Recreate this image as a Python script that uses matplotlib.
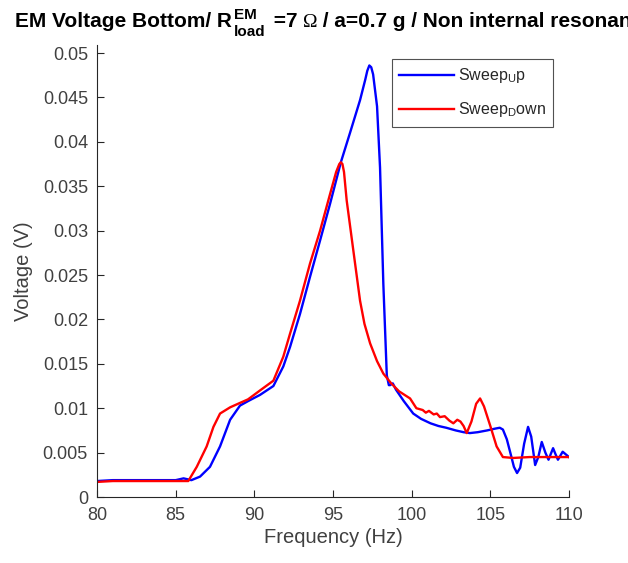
import matplotlib
matplotlib.use("Agg")
import matplotlib.pyplot as plt

plt.rcParams['font.family'] = ['Liberation Sans', 'DejaVu Sans']
plt.rcParams['mathtext.fontset'] = 'custom'
plt.rcParams['mathtext.rm'] = 'Liberation Sans'
plt.rcParams['mathtext.it'] = 'Liberation Sans'

# Sweep Up (blue)
up_freq = [80.0, 81.0, 82.0, 83.0, 84.0, 85.0, 85.5, 86.0, 86.55, 87.18, 87.82, 88.46,
           89.09, 89.6, 90.36, 91.21, 91.84, 92.27, 92.9, 93.54, 94.18, 94.81, 95.5,
           96.08, 96.72, 97.05, 97.18, 97.31, 97.43, 97.55, 97.8, 97.99, 98.2, 98.42,
           98.55, 98.63, 98.8, 99.0, 99.5, 100.1, 100.6, 101.2, 101.7, 102.2, 102.8,
           103.3, 103.7, 104.2, 104.8, 105.3, 105.6, 105.8, 106.05, 106.3, 106.5, 106.7,
           106.9, 107.15, 107.4, 107.6, 107.85, 108.05, 108.27, 108.5, 108.7, 108.99,
           109.15, 109.3, 109.6, 109.8, 110.0]
up_volt = [0.0018, 0.0019, 0.0019, 0.0019, 0.0019, 0.0019, 0.0021, 0.0019, 0.0023, 0.0034,
           0.0057, 0.0087, 0.0103, 0.0108, 0.0115, 0.0125, 0.0147, 0.0169, 0.0206, 0.0248,
           0.0289, 0.0330, 0.0377, 0.0410, 0.0447, 0.0470, 0.0480, 0.0486, 0.0484, 0.0476,
           0.0440, 0.0371, 0.0240, 0.0137, 0.0126, 0.0126, 0.0128, 0.0121, 0.0108, 0.0094,
           0.0088, 0.0083, 0.0080, 0.0078, 0.0075, 0.0073, 0.0072, 0.0073, 0.0075, 0.0077,
           0.0078, 0.0076, 0.0065, 0.0048, 0.0034, 0.0027, 0.0033, 0.0060, 0.0079, 0.0068,
           0.0036, 0.0045, 0.0062, 0.0050, 0.0042, 0.0055, 0.0048, 0.0042, 0.0051, 0.0048,
           0.0045]

# Sweep Down (red)
down_freq = [80.0, 81.0, 82.0, 83.0, 84.0, 85.0, 85.8, 86.34, 86.97, 87.4, 87.82, 88.46,
             89.09, 89.6, 90.36, 91.21, 91.84, 92.27, 92.9, 93.54, 94.18, 94.81, 95.2,
             95.4, 95.5, 95.6, 95.7, 95.87, 96.29, 96.72, 97.0, 97.36, 97.8, 98.2, 98.7,
             99.2, 99.9, 100.3, 100.7, 100.9, 101.1, 101.4, 101.6, 101.8, 102.1, 102.4,
             102.65, 102.9, 103.1, 103.3, 103.5, 103.8, 104.1, 104.35, 104.6, 105.0,
             105.4, 105.8, 106.45, 107.5, 108.5, 109.5, 110.0]
down_volt = [0.0017, 0.0018, 0.0018, 0.0018, 0.0018, 0.0018, 0.0018, 0.0034, 0.0057,
             0.0079, 0.0094, 0.0101, 0.0106, 0.0110, 0.0120, 0.0131, 0.0158, 0.0184,
             0.0221, 0.0263, 0.0300, 0.0341, 0.0366, 0.0375, 0.0377, 0.0375, 0.0366,
             0.0334, 0.0278, 0.0221, 0.0195, 0.0173, 0.0153, 0.0139, 0.0128, 0.0119,
             0.0111, 0.0100, 0.0098, 0.0095, 0.0097, 0.0093, 0.0094, 0.0090, 0.0091,
             0.0086, 0.0083, 0.0087, 0.0085, 0.0080, 0.0072, 0.0085, 0.0105, 0.0111,
             0.0102, 0.0080, 0.0057, 0.0045, 0.0044, 0.0045, 0.0045, 0.0045, 0.0045]

x_ticks = [80, 85, 90, 95, 100, 105, 110]
y_ticks = [0, 0.005, 0.01, 0.015, 0.02, 0.025, 0.03, 0.035, 0.04, 0.045, 0.05]
y_tick_labels = ['0', '0.005', '0.01', '0.015', '0.02', '0.025', '0.03', '0.035',
                 '0.04', '0.045', '0.05']

axc = '#262626'
txc = '#404040'
W, H = 628, 563
fig = plt.figure(figsize=(W / 100, H / 100), dpi=100)
ax = fig.add_axes([0.1545, 0.1172, 0.7515, 0.8028])

ax.plot(up_freq, up_volt, color='#0000ff', lw=1.7, label='Sweep$_U$p')
ax.plot(down_freq, down_volt, color='#ff0000', lw=1.7, label='Sweep$_D$own')

ax.set_xlim(80, 110)
ax.set_ylim(0, 0.0509)
ax.set_xticks(x_ticks)
ax.set_xticklabels([str(t) for t in x_ticks])
ax.set_yticks(y_ticks)
ax.set_yticklabels(y_tick_labels)
for s in ['top', 'right']:
    ax.spines[s].set_visible(False)
for s in ['left', 'bottom']:
    ax.spines[s].set_color(axc)
    ax.spines[s].set_linewidth(0.8)
ax.tick_params(direction='in', length=5, width=0.8, colors=axc, labelsize=13,
               labelcolor=txc)
ax.tick_params(axis='y', pad=6.5)
ax.tick_params(axis='x', pad=7)
ax.set_xlabel('Frequency (Hz)', fontsize=14.5, color=txc, labelpad=3)
ax.set_ylabel('Voltage (V)', fontsize=14.5, color=txc, labelpad=7)

leg = ax.legend(loc='upper right', bbox_to_anchor=(0.966, 0.969), fontsize=11.5,
                frameon=True, fancybox=False, handlelength=3.4, borderpad=0.45,
                labelspacing=0.95, handletextpad=0.25, borderaxespad=0)
leg.get_frame().set_edgecolor(axc)
leg.get_frame().set_linewidth(0.8)
for t in leg.get_texts():
    t.set_color('#262626')

# Title assembled from pieces (MATLAB-style stacked sub/superscript);
# the reference title runs past the right edge of the figure.
fig.canvas.draw()
renderer = fig.canvas.get_renderer()
tfam = ['Liberation Sans', 'DejaVu Sans']
main_fs = 15.0
scr_fs = 11.0
base_y = H - 27
x = 15.0

def put(s, xpos, ypos, fs, family=tfam, weight='bold'):
    t = fig.text(xpos / W, ypos / H, s, ha='left', va='baseline', fontsize=fs,
                 fontweight=weight, family=family, color='black')
    return t.get_window_extent(renderer).width

x += put('EM Voltage Bottom/ R', x, base_y, main_fs)
x += 2
w1 = put('EM', x, base_y + 8, scr_fs)
w2 = put('load', x, base_y - 9, scr_fs)
x += max(w1, w2) + 2
x += put(' =7 ', x, base_y, main_fs)
x += put('\u03a9', x, base_y, main_fs - 1, family=['Liberation Serif', 'DejaVu Serif'],
         weight='normal')
put(' / a=0.7 g / Non internal resonance', x, base_y, main_fs)

fig.savefig('out.png', dpi=100)
